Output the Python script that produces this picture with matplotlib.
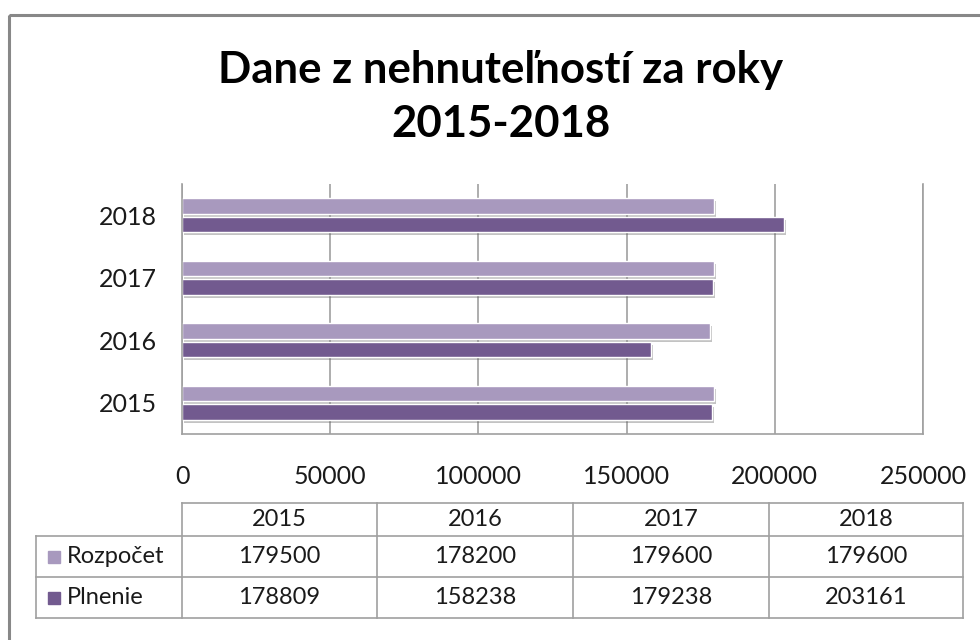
import numpy as np
import matplotlib
matplotlib.use('Agg')
import matplotlib.pyplot as plt
import matplotlib.patheffects as pe
from matplotlib.patches import Rectangle

plt.rcParams['font.family'] = ['Lato', 'DejaVu Sans']

years = ['2015', '2016', '2017', '2018']
series_names = ['Rozpočet', 'Plnenie']
rozpocet = [179500, 178200, 179600, 179600]
plnenie = [178809, 158238, 179238, 203161]
xticks = [0, 50000, 100000, 150000, 200000, 250000]

light = '#A899BE'
dark = '#725A8F'
grid_c = '#A0A0A0'
txt_c = '#1a1a1a'

W, H = 980, 640
fig = plt.figure(figsize=(W / 100, H / 100), dpi=100)

# background layer in pixel coordinates (frame, title, table)
bg = fig.add_axes([0, 0, 1, 1])
bg.set_xlim(0, W)
bg.set_ylim(H, 0)
bg.axis('off')
bg.add_patch(Rectangle((9, 15), 1000, 700, fill=False, edgecolor='#888888', lw=2.2))

bg.text(501, 70, 'Dane z nehnuteľností za roky', ha='center', va='center',
        fontsize=31.5, fontweight='bold', color='black')
bg.text(501, 124, '2015-2018', ha='center', va='center',
        fontsize=31.5, fontweight='bold', color='black')

# bar chart
ax = fig.add_axes([182 / W, 1 - 434 / H, 741 / W, 250 / H])
ax.set_facecolor('none')
y = np.arange(len(years))
shadow = [pe.SimplePatchShadow(offset=(1.5, -2.2), shadow_rgbFace='#555555', alpha=0.35), pe.Normal()]
b1 = ax.barh(y + 0.15, rozpocet, height=0.25, color=light, edgecolor='white', lw=1.0)
b2 = ax.barh(y - 0.15, plnenie, height=0.25, color=dark, edgecolor='white', lw=1.0)
for b in list(b1) + list(b2):
    b.set_path_effects(shadow)

ax.set_xlim(0, 250000)
ax.set_ylim(-0.5, 3.5)
ax.set_xticks(xticks)
ax.set_xticklabels([str(v) for v in xticks], fontsize=18, color=txt_c)
ax.set_yticks(y)
ax.set_yticklabels(years, fontsize=18, color=txt_c)
ax.tick_params(axis='x', length=0, pad=22)
ax.tick_params(axis='y', length=0, pad=18)
ax.grid(axis='x', color=grid_c, lw=1.2)
ax.set_axisbelow(True)
ax.spines['top'].set_visible(False)
for s in ['left', 'bottom', 'right']:
    ax.spines[s].set_color(grid_c)
    ax.spines[s].set_linewidth(1.2)

# data table
col_x = [182, 377, 573, 769, 963]
row_y = [503, 536, 577, 618]
tc = '#A0A0A0'
fs = 17
bg.plot([col_x[0], col_x[-1]], [row_y[0], row_y[0]], color=tc, lw=1.2)
for ry in row_y[1:]:
    bg.plot([36, col_x[-1]], [ry, ry], color=tc, lw=1.2)
bg.plot([36, 36], [row_y[1], row_y[-1]], color=tc, lw=1.2)
for cx in col_x:
    bg.plot([cx, cx], [row_y[0], row_y[-1]], color=tc, lw=1.2)

for j, yr in enumerate(years):
    cx = (col_x[j] + col_x[j + 1]) / 2
    bg.text(cx, (row_y[0] + row_y[1]) / 2, yr, ha='center', va='center', fontsize=fs, color=txt_c)
    bg.text(cx, (row_y[1] + row_y[2]) / 2, str(rozpocet[j]), ha='center', va='center', fontsize=fs, color=txt_c)
    bg.text(cx, (row_y[2] + row_y[3]) / 2, str(plnenie[j]), ha='center', va='center', fontsize=fs, color=txt_c)

for k, (name, c) in enumerate(zip(series_names, [light, dark])):
    cy = (row_y[k + 1] + row_y[k + 2]) / 2
    bg.add_patch(Rectangle((48, cy - 6), 12, 12, color=c))
    bg.text(67, cy, name, ha='left', va='center', fontsize=fs, color=txt_c)

fig.savefig('out.png', dpi=100)
